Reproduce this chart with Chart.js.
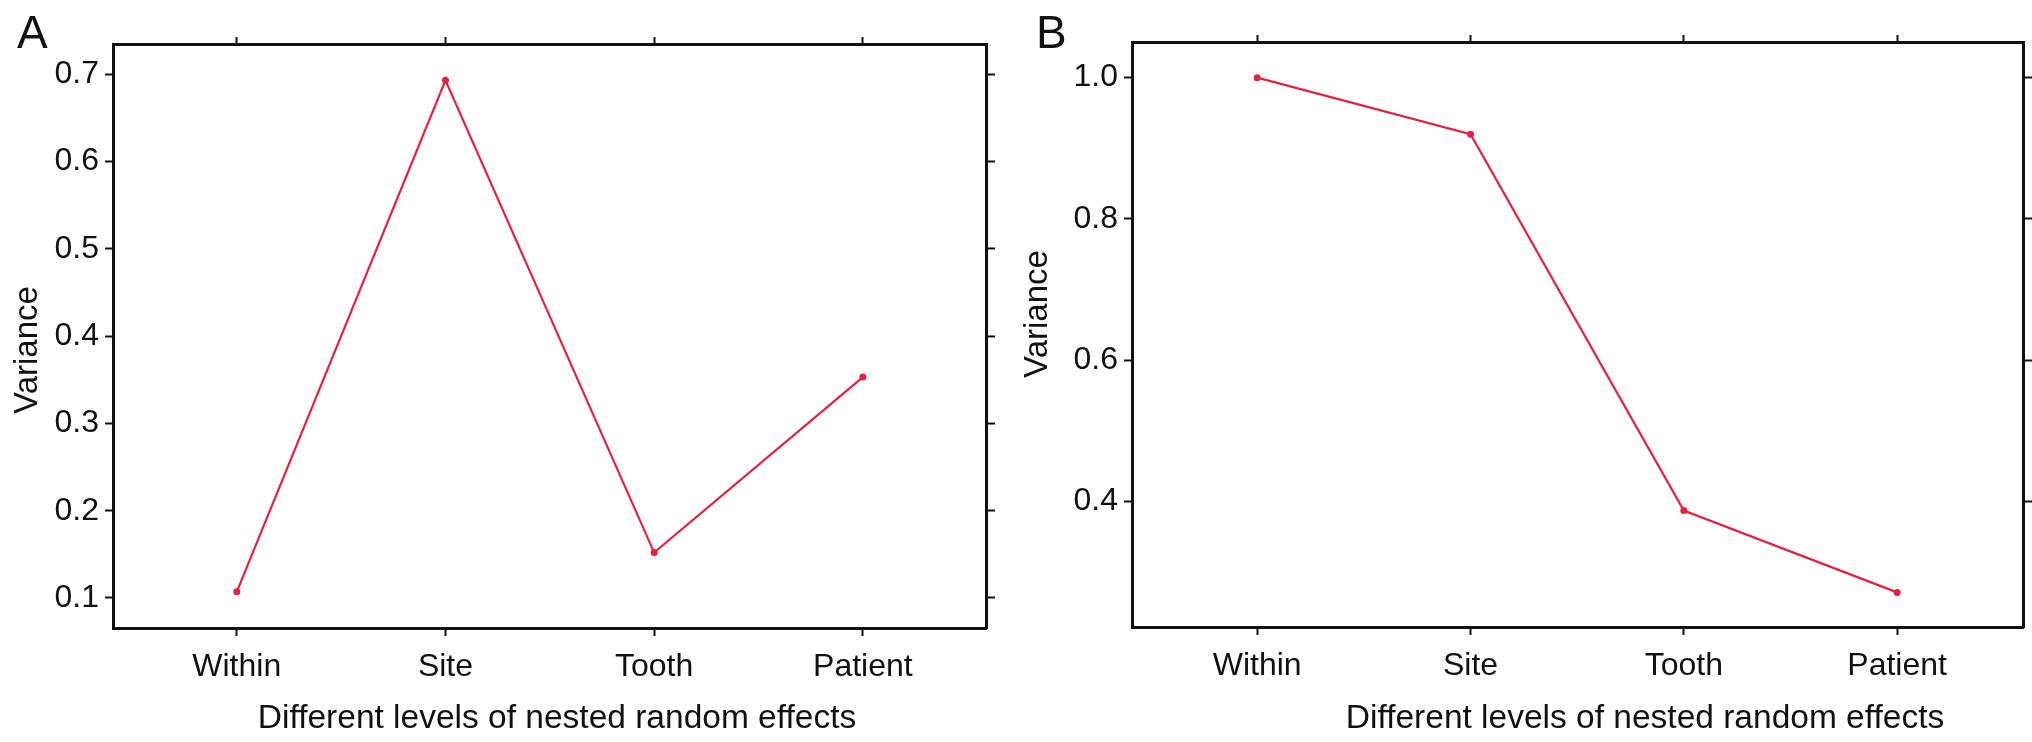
<!DOCTYPE html>
<html>
<head>
<meta charset="utf-8">
<script src="https://cdn.jsdelivr.net/npm/chart.js@4.4.1/dist/chart.umd.min.js"></script>
<style>
  html, body { margin: 0; padding: 0; background: #fff; }
  .panel { position: absolute; top: 0; height: 742px; }
  #panelA { left: 0; width: 1010px; }
  #panelB { left: 1010px; width: 1022px; }
</style>
</head>
<body>
<div class="panel" id="panelA"><canvas id="chartA"></canvas></div>
<div class="panel" id="panelB"><canvas id="chartB"></canvas></div>
<script>
// Data
const categories = ['Within', 'Site', 'Tooth', 'Patient'];
const varianceA = [0.107, 0.693, 0.152, 0.353];
const varianceB = [1.0, 0.92, 0.387, 0.271];
const yTicksA = [0.1, 0.2, 0.3, 0.4, 0.5, 0.6, 0.7];
const yTicksB = [0.4, 0.6, 0.8, 1.0];
const xTitle = 'Different levels of nested random effects';
const yTitle = 'Variance';

const FONT = '"Liberation Sans", Arial, Helvetica, sans-serif';
const INK = '#111';
const RED = '#e6203f';
const H = 742;

Chart.defaults.font.family = FONT;
Chart.defaults.color = INK;

// Panel letter and axis titles, placed like the original figure
const panelText = {
  id: 'panelText',
  afterDraw(chart, args, opts) {
    const ctx = chart.ctx;
    ctx.save();
    ctx.fillStyle = INK;
    ctx.textBaseline = 'alphabetic';
    ctx.font = '46px ' + FONT;
    ctx.textAlign = 'left';
    ctx.fillText(opts.letter, opts.letterX, 48);
    ctx.font = '33.5px ' + FONT;
    ctx.textAlign = 'center';
    ctx.fillText(xTitle, opts.xTitleX, 728);
    ctx.translate(37, opts.yTitleY);
    ctx.rotate(-Math.PI / 2);
    ctx.font = '33px ' + FONT;
    ctx.fillText(yTitle, 0, 0);
    ctx.restore();
  }
};

function frameAxis(position, size, tickLength, extra) {
  return Object.assign({
    type: 'linear',
    position: position,
    bounds: 'data',
    afterFit: (s) => {
      if (position === 'top' || position === 'bottom') s.height = size;
      else s.width = size;
    },
    grid: { drawOnChartArea: false, drawTicks: true, tickLength: tickLength, tickWidth: 2, tickColor: INK },
    border: { display: true, width: 3, color: INK },
    ticks: { display: false }
  }, extra);
}

function makePanel(canvasId, values, yTicks, W, area, yMin, yMax, xMin, xMax, text) {
  const xTickSet = (s) => { s.ticks = categories.map((c, i) => ({ value: i })); };
  const yTickSet = (s) => { s.ticks = yTicks.map((v) => ({ value: v })); };

  new Chart(document.getElementById(canvasId), {
    type: 'line',
    data: {
      datasets: [{
        data: values.map((v, i) => ({ x: i, y: v })),
        borderColor: RED,
        backgroundColor: RED,
        borderWidth: 2.2,
        pointRadius: 3.5,
        pointBorderWidth: 0,
        tension: 0,
        fill: false
      }]
    },
    options: {
      responsive: true,
      maintainAspectRatio: false,
      devicePixelRatio: 1,
      animation: false,
      layout: { padding: 0, autoPadding: false },
      plugins: {
        legend: { display: false },
        tooltip: { enabled: false },
        panelText: text
      },
      scales: {
        x: frameAxis('bottom', H - area.bottom, 8, {
          min: xMin, max: xMax,
          afterBuildTicks: xTickSet,
          ticks: {
            display: true, autoSkip: false, maxRotation: 0, padding: 12,
            font: { size: 32 }, color: INK,
            callback: (v) => categories[v]
          }
        }),
        x2: frameAxis('top', area.top, 7, { min: xMin, max: xMax, afterBuildTicks: xTickSet }),
        y: frameAxis('left', area.left, 8, {
          min: yMin, max: yMax,
          afterBuildTicks: yTickSet,
          ticks: {
            display: true, padding: 6,
            font: { size: 32 }, color: INK,
            callback: (v) => Number(v).toFixed(1)
          }
        }),
        y2: frameAxis('right', W - area.right, 9, { min: yMin, max: yMax, afterBuildTicks: yTickSet })
      }
    },
    plugins: [panelText]
  });
}

makePanel('chartA', varianceA, yTicksA, 1010,
  { left: 113, right: 986, top: 44, bottom: 628 },
  0.0656, 0.7346, -0.593, 3.59,
  { letter: 'A', letterX: 17, xTitleX: 557, yTitleY: 350 });

makePanel('chartB', varianceB, yTicksB, 1022,
  { left: 122, right: 1013, top: 42, bottom: 627 },
  0.222, 1.0505, -0.587, 3.59,
  { letter: 'B', letterX: 26, xTitleX: 635, yTitleY: 314 });
</script>
</body>
</html>
